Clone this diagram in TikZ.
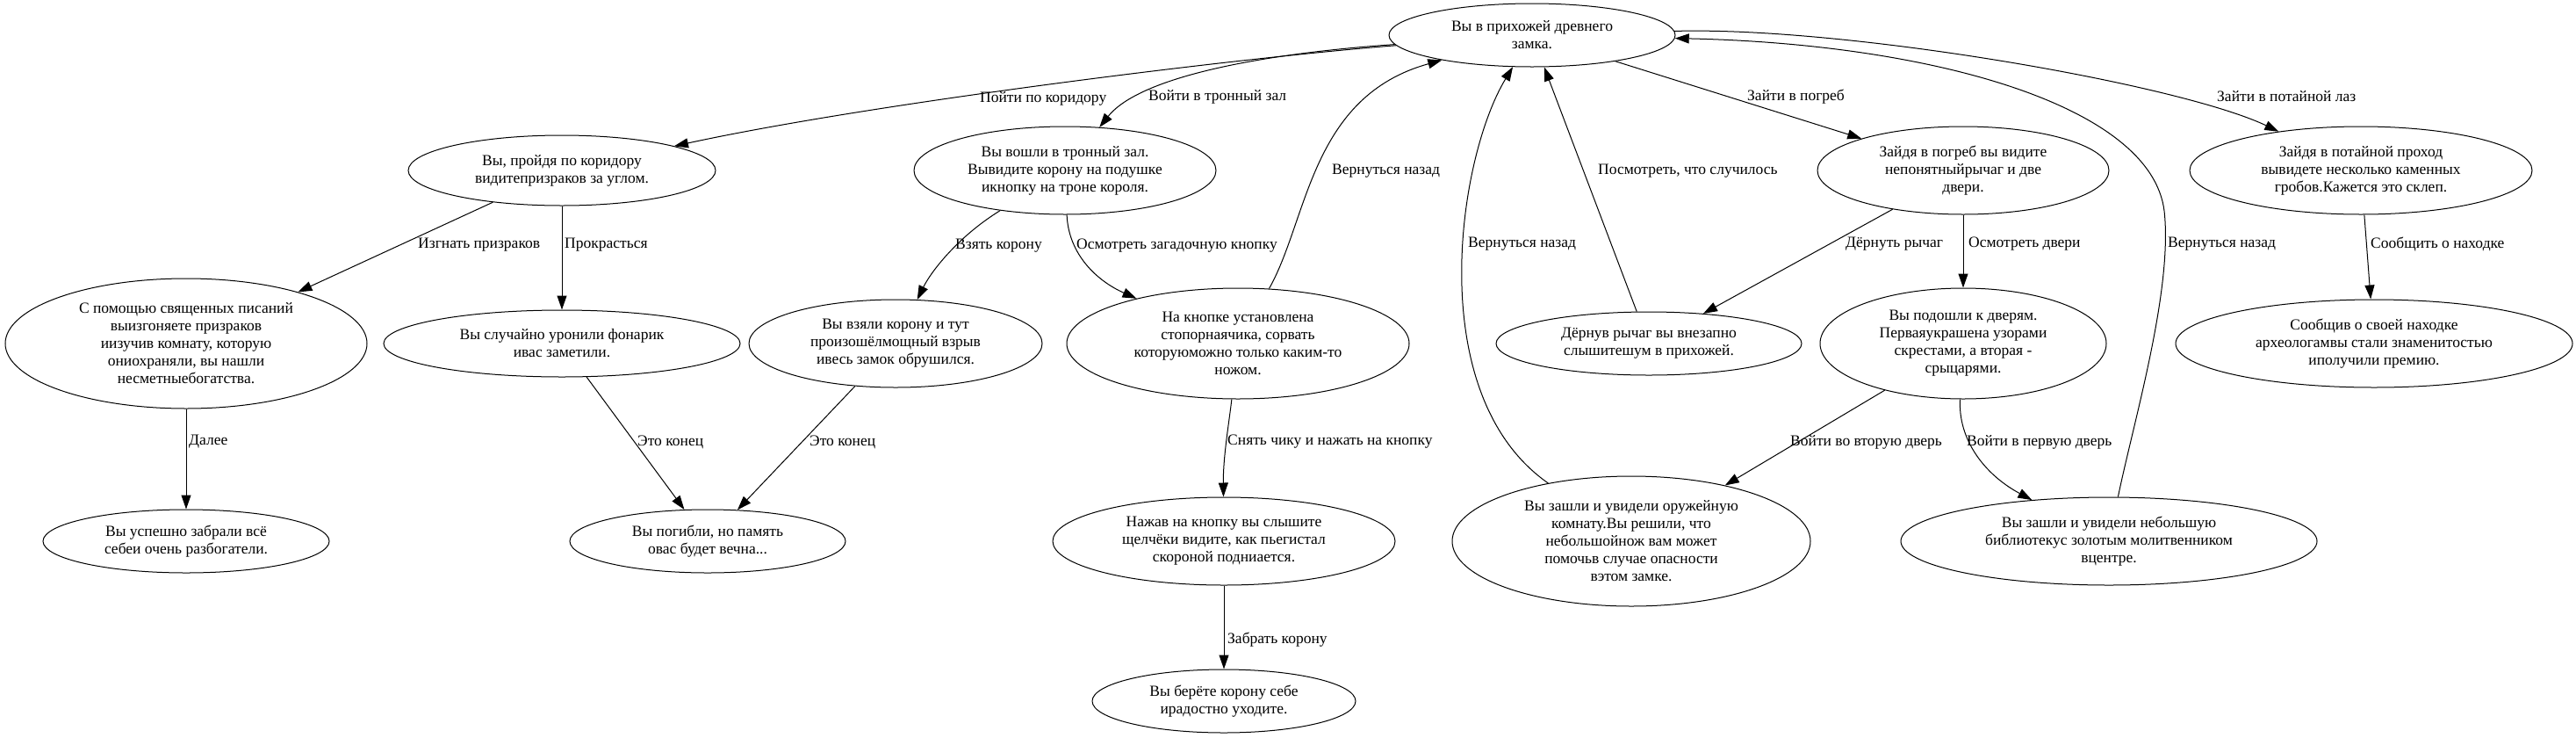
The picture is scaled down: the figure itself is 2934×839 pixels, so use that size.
\documentclass[tikz,border=0pt]{standalone}
\usepackage{fontspec}
\setmainfont{Liberation Serif}
\usetikzlibrary{shapes, arrows.meta}
\tikzstyle{state} = [ellipse, draw=black, line width=1pt, inner sep=0pt, align=center, font=\fontsize{17.5}{20}\selectfont]
\tikzstyle{choice} = [anchor=west, inner sep=0pt, font=\fontsize{17.5}{20}\selectfont]
\tikzstyle{arrow} = [line width=1pt, -{Triangle[length=16pt, width=11pt]}]

\begin{document}
\begin{tikzpicture}[x=1pt, y=-1pt]
        \useasboundingbox (0,0) rectangle (2934,839);
        % rooms
        \node [state, minimum width=326pt, minimum height=72pt] (start) at (1745,40) {Вы в прихожей древнего\\замка.};
        \node [state, minimum width=350pt, minimum height=80pt] (corridor) at (640,194) {Вы, пройдя по коридору\\видитепризраков за углом.};
        \node [state, minimum width=344pt, minimum height=100pt] (throne) at (1213,194) {Вы вошли в тронный зал.\\Вывидите корону на подушке\\икнопку на троне короля.};
        \node [state, minimum width=332pt, minimum height=100pt] (cellar) at (2236,194) {Зайдя в погреб вы видите\\непонятныйрычаг и две\\двери.};
        \node [state, minimum width=390pt, minimum height=100pt] (crypt) at (2689,194) {Зайдя в потайной проход\\вывидете несколько каменных\\гробов.Кажется это склеп.};
        \node [state, minimum width=412pt, minimum height=148pt] (ghosts) at (212,391) {С помощью священных писаний\\выизгоняете призраков\\иизучив комнату, которую\\ониохраняли, вы нашли\\несметныебогатства.};
        \node [state, minimum width=406pt, minimum height=76pt] (lantern) at (640,391) {Вы случайно уронили фонарик\\ивас заметили.};
        \node [state, minimum width=334pt, minimum height=100pt] (explosion) at (1020,391) {Вы взяли корону и тут\\произошёлмощный взрыв\\ивесь замок обрушился.};
        \node [state, minimum width=390pt, minimum height=126pt] (button) at (1410,391) {На кнопке установлена\\стопорнаячика, сорвать\\которуюможно только каким-то\\ножом.};
        \node [state, minimum width=348pt, minimum height=72pt] (lever) at (1878,391) {Дёрнув рычаг вы внезапно\\слышитешум в прихожей.};
        \node [state, minimum width=326pt, minimum height=126pt] (doors) at (2236,391) {Вы подошли к дверям.\\Перваяукрашена узорами\\скрестами, а вторая -\\срыцарями.};
        \node [state, minimum width=452pt, minimum height=100pt] (report) at (2704,391) {Сообщив о своей находке\\археологамвы стали знаменитостью\\иполучили премию.};
        \node [state, minimum width=326pt, minimum height=72pt] (rich) at (212,616) {Вы успешно забрали всё\\себеи очень разбогатели.};
        \node [state, minimum width=314pt, minimum height=72pt] (death) at (806,616) {Вы погибли, но память\\овас будет вечна...};
        \node [state, minimum width=390pt, minimum height=100pt] (pressed) at (1394,616) {Нажав на кнопку вы слышите\\щелчёки видите, как пьегистал\\скороной подниается.};
        \node [state, minimum width=408pt, minimum height=148pt] (armory) at (1858,616) {Вы зашли и увидели оружейную\\комнату.Вы решили, что\\небольшойнож вам может\\помочьв случае опасности\\вэтом замке.};
        \node [state, minimum width=474pt, minimum height=100pt] (library) at (2402,616) {Вы зашли и увидели небольшую\\библиотекус золотым молитвенником\\вцентре.};
        \node [state, minimum width=300pt, minimum height=72pt] (takecrown) at (1394,798) {Вы берёте корону себе\\ирадостно уходите.};

        % moves
        \draw [arrow] (start) .. controls (1429,64) and (1000,116) .. (corridor);
        \draw [arrow] (start) .. controls (1450,60) and (1300,85) .. (throne);
        \draw [arrow] (start) -- (cellar);
        \draw [arrow] (start) .. controls (2100,30) and (2480,95) .. (crypt);
        \draw [arrow] (corridor) -- (ghosts);
        \draw [arrow] (corridor) -- (lantern);
        \draw [arrow] (throne) .. controls (1090,270) and (1060,310) .. (explosion);
        \draw [arrow] (throne) .. controls (1217,290) and (1250,320) .. (button);
        \draw [arrow] (button) .. controls (1490,250) and (1492,110) .. (start);
        \draw [arrow] (ghosts) -- (rich);
        \draw [arrow] (lantern) -- (death);
        \draw [arrow] (explosion) -- (death);
        \draw [arrow] (button) .. controls (1400,480) and (1393,520) .. (pressed);
        \draw [arrow] (pressed) -- (takecrown);
        \draw [arrow] (cellar) -- (lever);
        \draw [arrow] (cellar) -- (doors);
        \draw [arrow] (lever) -- (start);
        \draw [arrow] (doors) -- (armory);
        \draw [arrow] (doors) .. controls (2230,500) and (2260,540) .. (library);
        \draw [arrow] (armory) .. controls (1620,450) and (1660,180) .. (start);
        \draw [arrow] (library) .. controls (2430,480) and (2475,330) .. (2465,240) .. controls (2450,120) and (2200,50) .. (start);
        \draw [arrow] (crypt) -- (report);

        % captions
        \node [choice] (lcorridor) at (1116,112) {Пойти по коридору};
        \node [choice] (lthrone) at (1308,110) {Войти в тронный зал};
        \node [choice] (lcellar) at (1990,110) {Зайти в погреб};
        \node [choice] (lcrypt) at (2525,110) {Зайти в потайной лаз};
        \node [choice] (lback1) at (1517,195) {Вернуться назад};
        \node [choice] (llook) at (1820,195) {Посмотреть, что случилось};
        \node [choice] (lexpel) at (476,279) {Изгнать призраков};
        \node [choice] (lsneak) at (643,279) {Прокрасться};
        \node [choice] (ltake) at (1088,280) {Взять корону};
        \node [choice] (lexamine) at (1226,280) {Осмотреть загадочную кнопку};
        \node [choice] (lback2) at (1672,278) {Вернуться назад};
        \node [choice] (lpull) at (2102,278) {Дёрнуть рычаг};
        \node [choice] (ldoors) at (2242,278) {Осмотреть двери};
        \node [choice] (lback3) at (2469,278) {Вернуться назад};
        \node [choice] (lreport) at (2700,278) {Сообщить о находке};
        \node [choice] (lnext) at (215,503) {Далее};
        \node [choice] (lend1) at (726,503) {Это конец};
        \node [choice] (lend2) at (922,503) {Это конец};
        \node [choice] (lpress) at (1398,503) {Снять чику и нажать на кнопку};
        \node [choice] (lsecond) at (2039,503) {Войти во вторую дверь};
        \node [choice] (lfirst) at (2240,503) {Войти в первую дверь};
        \node [choice] (lgrab) at (1398,728) {Забрать корону};
\end{tikzpicture}
\end{document}
